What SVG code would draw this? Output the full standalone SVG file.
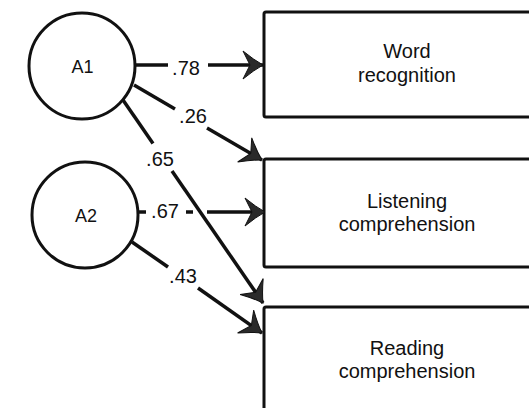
<svg xmlns="http://www.w3.org/2000/svg" width="529" height="408" viewBox="0 0 529 408">
  <style>
    .node { fill: #ffffff; stroke: #111111; stroke-width: 3; }
    .lbl { font-family: "Liberation Sans", Arial, sans-serif; font-size: 20px; fill: #111111; text-anchor: middle; }
    .nlbl { font-family: "Liberation Sans", Arial, sans-serif; font-size: 18px; fill: #111111; text-anchor: middle; }
    .coef { font-family: "Liberation Sans", Arial, sans-serif; font-size: 20px; fill: #111111; text-anchor: middle; }
    .edge { stroke: #111111; stroke-width: 3.5; fill: none; }
  </style>
  <defs>
    <marker id="arrow" markerUnits="userSpaceOnUse" markerWidth="24" markerHeight="32" refX="21" refY="15" orient="auto" viewBox="0 0 24 32">
      <path d="M1,1 Q12,10 21,15 Q12,20 1,29 L8,15 Z" fill="#2a2a2a" stroke="#111111" stroke-width="1"/>
    </marker>
  </defs>
  <rect width="529" height="408" fill="#ffffff"/>

  <g id="A1">
    <circle class="node" cx="82" cy="66" r="53"/>
    <text class="nlbl" x="82.5" y="72.5">A1</text>
  </g>
  <g id="A2">
    <circle class="node" cx="85" cy="215" r="53"/>
    <text class="nlbl" x="86" y="221.5">A2</text>
  </g>
  <g id="word">
    <rect class="node" x="264" y="12" width="290" height="105" rx="2"/>
    <text class="lbl" x="407" y="58">Word</text>
    <text class="lbl" x="407" y="82">recognition</text>
  </g>
  <g id="listening">
    <rect class="node" x="264" y="159" width="290" height="108" rx="2"/>
    <text class="lbl" x="407" y="208">Listening</text>
    <text class="lbl" x="407" y="231">comprehension</text>
  </g>
  <g id="reading">
    <rect class="node" x="264" y="307" width="290" height="120" rx="2"/>
    <text class="lbl" x="407" y="355">Reading</text>
    <text class="lbl" x="407" y="378">comprehension</text>
  </g>

  <g id="connectors">
    <!-- A1 -> Word .78 -->
    <line class="edge" x1="136" y1="65" x2="168" y2="65"/>
    <line class="edge" x1="208" y1="65" x2="263" y2="65" marker-end="url(#arrow)"/>
    <!-- A1 -> Listening .26 -->
    <line class="edge" x1="134" y1="85" x2="175" y2="109"/>
    <line class="edge" x1="207" y1="128" x2="262" y2="160" marker-end="url(#arrow)"/>
    <!-- A1 -> Reading .65 -->
    <line class="edge" x1="123" y1="100" x2="153" y2="143.5"/>
    <line class="edge" x1="172" y1="171" x2="263" y2="303" marker-end="url(#arrow)"/>
    <!-- A2 -> Listening .67 -->
    <line class="edge" x1="138" y1="212" x2="146" y2="212"/>
    <line class="edge" x1="186" y1="212" x2="193" y2="212"/>
    <line class="edge" x1="207" y1="212" x2="265" y2="212" marker-end="url(#arrow)"/>
    <!-- A2 -> Reading .43 -->
    <line class="edge" x1="132" y1="242" x2="168" y2="267"/>
    <line class="edge" x1="198" y1="288" x2="262" y2="333" marker-end="url(#arrow)"/>

    <text class="coef" x="186" y="75">.78</text>
    <text class="coef" x="193" y="123">.26</text>
    <text class="coef" x="160" y="166">.65</text>
    <text class="coef" x="165" y="218">.67</text>
    <text class="coef" x="183" y="283">.43</text>
  </g>
</svg>
